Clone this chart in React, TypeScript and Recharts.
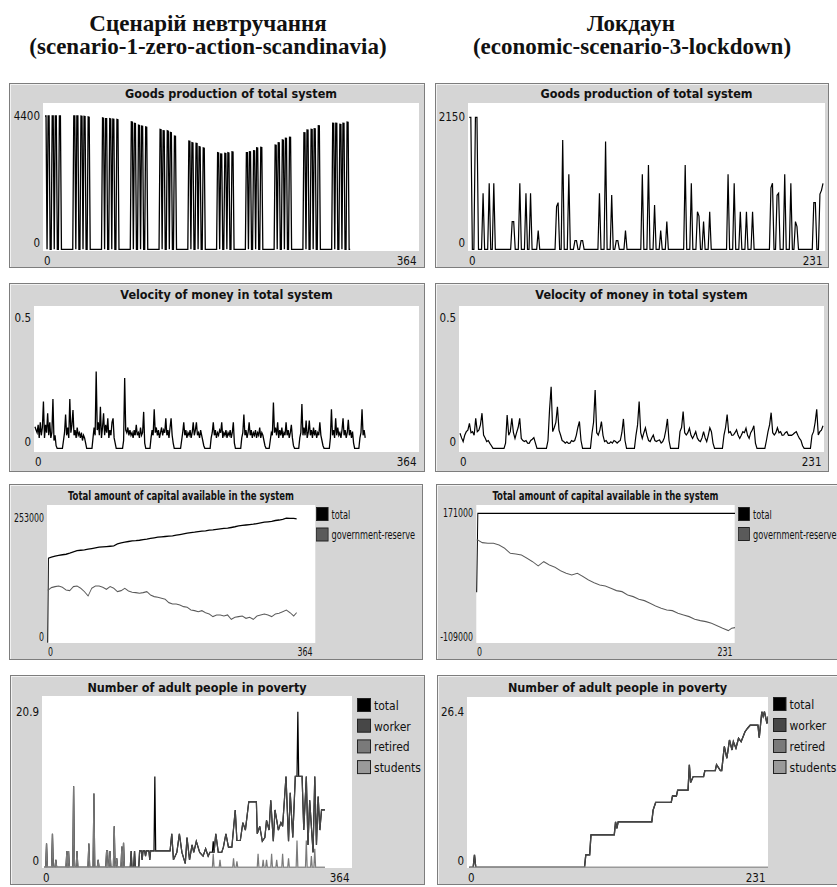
import React from 'react';
import { LineChart, Line, XAxis, YAxis } from 'recharts';

// ---------- data: scenario 1 (zero action, scandinavia) ----------

// goods production per tick, ticks 0..297
const goodsNoAction: number[] = [
  4400, 4400, 0, 4400, 4400, 0, 0, 4400, 4400, 0, 4400, 4400, 0, 0, 4400, 4400, 0, 0, 0, 0, 0, 0, 0, 0, 0, 0, 0, 0,
  4400, 4400, 0, 4400, 4400, 0, 0, 4400, 4390, 0, 4390, 4380, 0, 0, 4370, 4360, 0, 0, 0, 0, 0, 0, 0, 0, 0, 0, 0, 0,
  4340, 4330, 0, 4310, 4310, 0, 0, 4310, 4300, 0, 4300, 4290, 0, 0, 4290, 4280, 0, 0, 0, 0, 0, 0, 0, 0, 0, 0, 0, 0,
  4210, 4200, 0, 4160, 4150, 0, 0, 4100, 4090, 0, 4070, 4060, 0, 0, 4040, 4030, 0, 0, 0, 0, 0, 0, 0, 0, 0, 0, 0, 0,
  3960, 3950, 0, 3915, 3910, 0, 0, 3915, 3900, 0, 3860, 3850, 0, 0, 3740, 3730, 0, 0, 0, 0, 0, 0, 0, 0, 0, 0, 0, 0,
  3575, 3565, 0, 3520, 3510, 0, 0, 3500, 3490, 0, 3390, 3380, 0, 0, 3350, 3340, 0, 0, 0, 0, 0, 0, 0, 0, 0, 0, 0, 0,
  3190, 3180, 0, 3145, 3140, 0, 0, 3170, 3160, 0, 3190, 3180, 0, 0, 3220, 3210, 0, 0, 0, 0, 0, 0, 0, 0, 0, 0, 0, 0,
  3190, 3190, 0, 3220, 3215, 0, 0, 3255, 3250, 0, 3350, 3345, 0, 0, 3365, 3360, 0, 0, 0, 0, 0, 0, 0, 0, 0, 0, 0, 0,
  3440, 3435, 0, 3520, 3515, 0, 0, 3610, 3600, 0, 3665, 3660, 0, 0, 3700, 3695, 0, 0, 0, 0, 0, 0, 0, 0, 0, 0, 0, 0,
  3850, 3845, 0, 3940, 3935, 0, 0, 3960, 3955, 0, 3980, 3975, 0, 0, 4080, 4075, 0, 0, 0, 0, 0, 0, 0, 0, 0, 0, 0, 0,
  4160, 4155, 0, 4160, 4155, 0, 0, 4125, 4120, 0, 4160, 4155, 0, 0, 4200, 4195, 0, 0,
];

// velocity of money per tick, ticks 0..313
const velocityNoAction: number[] = [
  0.083, 0.07, 0.06, 0.09, 0.04, 0.1, 0.05, 0.08, 0.18, 0.04, 0.09, 0.06, 0.135, 0.05, 0.1, 0.04, 0.06, 0.19, 0.03, 0.05, 0.01, 0,
  0, 0, 0, 0, 0,
  0.03, 0.06, 0.13, 0.05, 0.08, 0.04, 0.19, 0.06, 0.09, 0.147, 0.05, 0.07, 0.04, 0.08, 0.05, 0.06, 0.04, 0.06, 0.03, 0.05, 0.04, 0.02, 0,
  0, 0, 0, 0, 0,
  0.04, 0.08, 0.05, 0.295, 0.07, 0.1, 0.05, 0.16, 0.04, 0.08, 0.135, 0.05, 0.09, 0.06, 0.115, 0.04, 0.07, 0.05, 0.1, 0.115, 0.04, 0.02,
  0, 0, 0, 0, 0, 0, 0,
  0.03, 0.27, 0.07, 0.06, 0.08, 0.05, 0.07, 0.05, 0.06, 0.04, 0.07, 0.05, 0.09, 0.05, 0.06, 0.04, 0.08, 0.05, 0.06, 0.14, 0.02,
  0, 0, 0, 0, 0,
  0.04, 0.07, 0.05, 0.15, 0.06, 0.08, 0.05, 0.07, 0.04, 0.06, 0.08, 0.05, 0.07, 0.06, 0.115, 0.05, 0.07, 0.04, 0.08, 0.115, 0.05, 0.02,
  0, 0, 0, 0, 0, 0, 0,
  0.03, 0.06, 0.1, 0.05, 0.07, 0.04, 0.06, 0.05, 0.07, 0.04, 0.06, 0.1, 0.05, 0.07, 0.1, 0.05, 0.06, 0.04, 0.07, 0.05, 0.03, 0.01,
  0, 0, 0, 0, 0, 0,
  0.04, 0.06, 0.1, 0.05, 0.07, 0.04, 0.06, 0.05, 0.07, 0.06, 0.1, 0.04, 0.06, 0.05, 0.07, 0.04, 0.06, 0.05, 0.07, 0.04, 0.06, 0.1, 0.02,
  0, 0, 0, 0, 0, 0,
  0.04, 0.06, 0.13, 0.05, 0.07, 0.04, 0.06, 0.1, 0.05, 0.07, 0.04, 0.06, 0.05, 0.07, 0.04, 0.06, 0.05, 0.08, 0.04, 0.06, 0.05, 0.03, 0.01,
  0, 0, 0, 0,
  0.03, 0.06, 0.05, 0.176, 0.06, 0.08, 0.05, 0.1, 0.04, 0.07, 0.05, 0.08, 0.04, 0.06, 0.05, 0.1, 0.05, 0.07, 0.04, 0.06, 0.09, 0.04, 0.01,
  0, 0, 0, 0, 0,
  0.04, 0.06, 0.17, 0.05, 0.08, 0.05, 0.107, 0.04, 0.06, 0.107, 0.05, 0.07, 0.04, 0.08, 0.05, 0.07, 0.04, 0.06, 0.05, 0.1, 0.05, 0.03, 0.01,
  0, 0, 0, 0, 0, 0,
  0.04, 0.15, 0.05, 0.07, 0.04, 0.115, 0.05, 0.08, 0.05, 0.06, 0.04, 0.07, 0.115, 0.05, 0.07, 0.04, 0.06, 0.11, 0.05, 0.07, 0.04, 0.064, 0.02,
  0, 0, 0, 0, 0,
  0.04, 0.06, 0.15, 0.05, 0.07, 0.04,
];

// capital: sampled ticks and values
const capTicksNoAction = [0, 1, 5, 10, 15, 20, 25, 30, 35, 40, 45, 50, 55, 60, 65, 70, 75, 80, 85, 90, 95, 100, 105, 110, 115, 120, 125, 130, 135, 140, 145, 150, 155, 160, 165, 170, 175, 180, 185, 190, 195, 200, 205, 210, 215, 220, 225, 230, 235, 240, 245, 250, 255, 260, 265, 270, 275, 280, 285, 290, 295, 300, 305, 310, 315, 320, 325, 330, 335, 339];
const capTotalNoAction = [0, 171800, 174000, 176200, 177500, 178900, 179900, 182000, 184800, 187400, 188000, 188800, 190100, 191500, 192800, 194200, 195000, 195600, 196200, 197000, 200900, 203000, 204400, 205800, 207100, 207500, 208400, 209800, 210500, 212000, 213200, 214600, 215300, 216000, 216700, 217300, 218800, 220000, 221400, 222700, 223700, 224700, 226100, 226800, 227500, 228800, 229500, 230500, 231400, 232400, 232900, 234300, 235800, 237700, 238500, 239400, 240300, 241000, 242300, 243600, 245100, 245800, 246700, 248500, 249500, 251000, 253300, 253000, 252800, 251900];
const capGovNoAction = [107300, 107300, 112000, 114100, 115400, 112700, 107300, 105900, 114100, 115400, 110700, 103900, 95100, 110700, 115400, 115400, 112700, 108600, 114100, 110700, 103900, 105900, 110700, 105200, 102500, 101800, 100500, 101800, 103900, 97100, 93700, 92300, 90300, 88300, 81500, 78800, 78800, 76700, 73300, 72000, 66500, 65200, 63100, 65200, 61100, 58400, 53000, 56400, 56400, 54300, 56400, 47500, 51600, 53000, 54300, 49600, 51600, 47500, 54300, 56400, 58400, 56400, 53000, 58400, 59800, 63100, 66500, 61100, 54300, 61100];

// poverty: line vertices (tick, value); early spikes belong to the retired pen
const povTicksNoAction = [0, 2, 3, 4, 9, 10, 11, 13, 14, 15, 26, 27, 28, 29, 30, 34, 35, 36, 38, 39, 40, 52, 53, 54, 58, 59, 60, 63, 64, 65, 73, 74, 75, 76, 77, 78, 79, 82, 83, 84, 85, 86, 87, 91, 92, 93, 94, 95, 102, 103, 104, 106, 107, 108, 112, 113, 115, 116, 117, 119, 120, 121, 124, 125, 126, 130, 131, 132, 149, 151, 153, 157, 160, 163, 167, 169, 172, 175, 177, 180, 184, 188, 191, 194, 196, 199, 200, 201, 203, 206, 210, 212, 215, 218, 222, 226, 228, 232, 235, 238, 242, 251, 252, 255, 258, 261, 263, 266, 268, 271, 273, 277, 280, 282, 286, 289, 291, 294, 297, 299, 300, 301, 305, 307, 310, 312, 314, 318, 320, 322, 324, 326, 328, 332];
const povBaseNoAction = [0, 0, 3.2, 0, 0, 4.5, 0, 0, 1, 0, 0, 2.2, 0, 2.2, 0, 0, 10.9, 0, 0, 2.2, 0, 0, 3.2, 0, 0, 9.9, 0, 0, 1, 0, 0, 2.2, 2.2, 0, 0, 2.2, 0, 0, 5.5, 0, 0, 1.2, 0, 0, 2.8, 0, 3.3, 0, 0, 2.2, 0, 0, 2.2, 0, 0, 2.2, 2.2, 1, 2.2, 2.2, 1.5, 2.2, 2.2, 1, 2.2, 2.2, 2.2, 2.2, 2.2, 4.5, 1, 2, 4.5, 2, 0.5, 4, 1, 3, 2, 3.5, 2, 1.5, 2.5, 1.5, 2, 2, 2, 2, 4.5, 2, 2, 2.7, 4.5, 2.7, 2.7, 7.7, 3.6, 3.6, 6, 5, 8.8, 8.8, 4.5, 5.5, 3.5, 4, 6.3, 5, 9, 3.5, 7.7, 5, 6, 5.5, 12.2, 3.5, 10, 4, 12.2, 12.2, 12.2, 12.2, 12.2, 5, 12.2, 3, 9, 2, 12.2, 3, 9.5, 5, 7.7, 7.7];
const povRetiredUntilTick = 100;
const povTotalPeakTicksNoAction = [131, 200, 300];
const povTotalPeakValsNoAction = [12.2, 3.5, 20.9];
const povRetiredTicksNoAction = [100, 199, 200, 201, 207, 208, 209, 223, 224, 225, 227, 228, 229, 252, 253, 254, 258, 259, 260, 262, 263, 264, 268, 269, 270, 274, 275, 276, 281, 282, 283, 288, 289, 290, 298, 299, 300, 309, 310, 311, 315, 316, 317, 319, 320, 321, 332];
const povRetiredNoAction = [0, 0, 1.8, 0, 0, 1, 0, 0, 1.2, 0, 0, 0.8, 0, 0, 1.8, 0, 0, 1, 0, 0, 1, 0, 0, 1.8, 0, 0, 1, 0, 0, 1.8, 0, 0, 1.2, 0, 0, 3.6, 0, 0, 3.6, 0, 0, 1.5, 0, 0, 2.5, 0, 0];
const povStudentsTicksNoAction = [0, 332];
const povStudentsNoAction = [0, 0];

// ---------- data: economic scenario 3 (lockdown) ----------

// goods production per tick, ticks 0..231
const goodsLockdown: number[] = [
  2150, 2150, 0, 0, 2150, 2150, 0, 0, 0, 912, 0, 0, 0, 1075, 0, 0, 1075, 0, 0, 0, 0, 0, 0, 0, 0, 0, 0, 0,
  451, 451, 0, 0, 0, 1075, 0, 0, 0, 912, 0, 0, 912, 0, 0, 0, 0, 304, 0, 0, 0, 0, 0, 0, 0, 0, 0, 0,
  0, 695, 760, 0, 0, 1780, 0, 0, 0, 1222, 0, 0, 0, 141, 141, 0, 0, 141, 141, 0, 0, 0, 0, 0, 0, 0, 0, 0,
  0, 912, 0, 0, 0, 1754, 0, 0, 0, 885, 0, 0, 141, 141, 0, 0, 0, 0, 304, 0, 0, 0, 0, 0, 0, 0, 0, 0,
  0, 1222, 0, 0, 0, 1373, 0, 0, 0, 722, 0, 0, 0, 304, 0, 0, 0, 451, 0, 0, 0, 0, 0, 0, 0, 0, 0, 0,
  0, 1373, 0, 0, 0, 1075, 0, 0, 0, 613, 540, 0, 0, 451, 0, 0, 0, 613, 0, 0, 0, 0, 0, 0, 0, 0, 0, 0,
  0, 1222, 0, 0, 0, 1075, 0, 0, 0, 613, 0, 0, 0, 613, 0, 0, 0, 613, 0, 0, 0, 0, 0, 0, 0, 0, 0, 0,
  0, 1000, 1075, 0, 0, 880, 912, 0, 0, 0, 1222, 0, 0, 0, 1075, 0, 0, 451, 369, 0, 0, 0, 0, 0, 0, 0, 0, 0,
  0, 760, 760, 0, 0, 900, 960, 1075,
];

// velocity of money per tick, ticks 0..231
const velocityLockdown: number[] = [
  0.058, 0.04, 0.026, 0.05, 0.064, 0.07, 0.096, 0.06, 0.064, 0.05, 0.115, 0.064, 0.07, 0.09, 0.135, 0.051, 0.04, 0.026, 0.03, 0.019, 0.01, 0,
  0, 0, 0, 0, 0, 0, 0,
  0.02, 0.128, 0.05, 0.064, 0.115, 0.06, 0.038, 0.06, 0.08, 0.115, 0.038, 0.03, 0.026, 0.03, 0.02, 0.019, 0.03, 0.035, 0.041, 0.02,
  0, 0, 0, 0, 0, 0, 0,
  0.03, 0.15, 0.237, 0.064, 0.08, 0.1, 0.16, 0.07, 0.051, 0.03, 0.026, 0.02, 0.025, 0.019, 0.02, 0.03, 0.026, 0.03, 0.05, 0.08, 0.103, 0.03,
  0, 0, 0, 0, 0, 0,
  0.058, 0.1, 0.224, 0.06, 0.051, 0.07, 0.103, 0.05, 0.026, 0.03, 0.02, 0.019, 0.025, 0.02, 0.03, 0.026, 0.02, 0.026, 0.03, 0.06, 0.113, 0.03,
  0, 0, 0, 0, 0, 0,
  0.051, 0.09, 0.18, 0.06, 0.038, 0.06, 0.079, 0.05, 0.03, 0.026, 0.04, 0.051, 0.03, 0.026, 0.03, 0.032, 0.02, 0.026, 0.04, 0.07, 0.113, 0.03,
  0, 0, 0, 0, 0, 0,
  0.064, 0.08, 0.141, 0.06, 0.051, 0.06, 0.077, 0.05, 0.038, 0.05, 0.064, 0.04, 0.03, 0.026, 0.04, 0.064, 0.04, 0.026, 0.05, 0.079, 0.064, 0.02,
  0, 0, 0, 0, 0, 0,
  0.051, 0.08, 0.13, 0.06, 0.064, 0.05, 0.051, 0.06, 0.071, 0.05, 0.038, 0.05, 0.064, 0.06, 0.077, 0.05, 0.038, 0.06, 0.07, 0.087, 0.02,
  0, 0, 0, 0, 0, 0,
  0.03, 0.064, 0.09, 0.137, 0.06, 0.051, 0.06, 0.079, 0.06, 0.064, 0.05, 0.051, 0.06, 0.064, 0.05, 0.051, 0.05, 0.054, 0.06, 0.064, 0.05, 0.038, 0.03, 0.01,
  0, 0, 0, 0, 0,
  0.05, 0.064, 0.1, 0.15, 0.051, 0.064, 0.07, 0.087,
];

const capTotalTicksLockdown = [0, 1, 231];
const capTotalLockdown = [0, 171000, 171000];
const capGovTicksLockdown = [0, 1, 5, 10, 15, 20, 25, 30, 35, 40, 45, 50, 55, 60, 65, 70, 75, 80, 85, 90, 95, 100, 105, 110, 115, 120, 125, 130, 135, 140, 145, 150, 155, 160, 165, 170, 175, 180, 185, 190, 195, 200, 205, 210, 215, 220, 225, 228, 231];
const capGovLockdown = [113300, 113000, 107500, 106100, 106100, 102500, 95300, 84400, 83000, 80800, 73600, 66400, 57000, 66400, 59200, 54100, 46900, 41200, 37600, 41200, 34000, 26700, 20900, 15900, 13800, 8700, 3700, 1500, -5700, -9300, -15100, -18000, -23800, -29500, -34600, -38200, -39600, -45400, -49000, -52600, -58400, -61300, -63400, -67000, -72100, -77900, -82900, -77900, -76400];

const povTicksLockdown = [0, 3, 4, 5, 89, 90, 93, 94, 112, 113, 114, 115, 141, 142, 144, 156, 157, 160, 161, 169, 170, 171, 173, 181, 182, 190, 191, 194, 195, 197, 199, 201, 203, 204, 206, 208, 210, 213, 215, 217, 223, 224, 226, 227, 228, 230, 231];
const povWorkerLockdown = [0, 0, 2.1, 0, 0, 2.1, 2.1, 5.5, 5.5, 7.7, 6.6, 7.7, 7.7, 9.7, 11, 11, 12.1, 12.1, 13.1, 13.1, 17.4, 14.4, 15.4, 15.4, 16.4, 16.4, 17.4, 16.4, 16.4, 20.5, 18.5, 21.6, 19.9, 21.3, 20.2, 21.9, 21.3, 23, 23.6, 24.1, 24.1, 22, 26.4, 25.6, 26.4, 24.4, 25.6];
const povZeroTicksLockdown = [0, 231];
const povZeroLockdown = [0, 0];

// ---------- helpers ----------

type Pt = { x: number; y: number };
const byTick = (vals: number[]): Pt[] => vals.map((y, x) => ({ x, y }));
const zipPts = (ticks: number[], vals: number[]): Pt[] => ticks.map((x, i) => ({ x, y: vals[i] }));
const withPeaks = (ticks: number[], vals: number[], pt: number[], pv: number[]): Pt[] =>
  ticks.map((x, i) => {
    const j = pt.indexOf(x);
    return { x, y: j >= 0 ? pv[j] : vals[i] };
  });

const povBasePts = zipPts(povTicksNoAction, povBaseNoAction);
const povWorkerPts = povBasePts.map((p) => (p.x < povRetiredUntilTick ? { x: p.x, y: 0 } : p));
const povRetiredPts = [
  ...povBasePts.filter((p) => p.x < povRetiredUntilTick),
  ...zipPts(povRetiredTicksNoAction, povRetiredNoAction),
];

const UI_FONT = '"DejaVu Sans Condensed", "DejaVu Sans", sans-serif';
const C_TOTAL = '#000000';
const C_WORKER = '#474747';
const C_RETIRED = '#7a7a7a';
const C_STUDENTS = '#9a9a9a';
const C_GOV = '#5a5a5a';

type Box = { x: number; y: number; w: number; h: number };
type Series = { name: string; color: string; data: Pt[]; width?: number };
type LegendBox = { x: number; y: number; step: number; sw: number; sh: number };

interface PlotSpec {
  id: string;
  frame: Box;
  plot: Box;
  title: string;
  titleY: number;
  xMax: number;
  xAt: [number, number];
  yMin: number;
  yMax: number;
  yAt: [number, number];
  yText: [string, string];
  series: Series[];
  legend?: LegendBox;
  squeeze?: number;
}

function NetLogoPlot({ spec }: { spec: PlotSpec }) {
  const k = spec.squeeze ?? 1;
  const { frame, plot } = spec;
  const W = frame.w / k;
  const H = frame.h;
  const rx = (px: number) => (px - frame.x) / k;
  const ry = (py: number) => py - frame.y;
  const L = rx(plot.x);
  const R = rx(plot.x + plot.w);
  const T = ry(plot.y);
  const B = ry(plot.y + plot.h);

  const x0 = rx(spec.xAt[0]);
  const x1 = rx(spec.xAt[1]);
  const sx = (x1 - x0) / spec.xMax;
  const xDomain: [number, number] = [(L - x0) / sx, (R - x0) / sx];

  const y0 = ry(spec.yAt[0]);
  const y1 = ry(spec.yAt[1]);
  const sy = (y0 - y1) / (spec.yMax - spec.yMin);
  const yDomain: [number, number] = [spec.yMin - (B - y0) / sy, spec.yMax + (y1 - T) / sy];

  const xTick = (p: any) => {
    const isMin = p.payload.value === 0;
    return (
      <text x={isMin ? L + 1 / k : R - 2.5 / k} y={B + 13.5} textAnchor={isMin ? 'start' : 'end'}
        fontFamily={UI_FONT} fontSize={11.5} fill="#111">
        {p.payload.value}
      </text>
    );
  };
  const yTick = (p: any) => {
    const isMax = p.payload.value === spec.yMax;
    return (
      <text x={L - 3 / k} y={p.y + (isMax ? 4 : -2)} textAnchor="end"
        fontFamily={UI_FONT} fontSize={11.5} fill="#111">
        {isMax ? spec.yText[1] : spec.yText[0]}
      </text>
    );
  };

  return (
    <div style={{ position: 'absolute', left: frame.x, top: frame.y, width: frame.w, height: frame.h, overflow: 'hidden', background: '#d5d5d5' }}>
      <div style={{ position: 'absolute', left: 0, top: 0, width: W, height: H, transform: `scaleX(${k})`, transformOrigin: '0 0' }}>
        <div style={{ position: 'absolute', left: L, top: T, width: R - L, height: B - T, background: '#fff' }} />
        <LineChart width={W} height={H} margin={{ top: T, right: W - R, bottom: 0, left: 0 }}
          style={{ position: 'absolute', left: 0, top: 0 }}>
          <XAxis type="number" dataKey="x" domain={xDomain} allowDataOverflow ticks={[0, spec.xMax]} interval={0}
            axisLine={false} tickLine={false} height={H - B} tick={xTick} />
          <YAxis type="number" domain={yDomain} allowDataOverflow ticks={[spec.yMin, spec.yMax]} interval={0}
            axisLine={false} tickLine={false} width={L} tick={yTick} />
          {spec.series.map((s) => (
            <Line key={s.name} data={s.data} dataKey="y" name={s.name} type="linear" stroke={s.color}
              strokeWidth={s.width ?? 1.1} dot={false} activeDot={false} isAnimationActive={false} />
          ))}
        </LineChart>
        <svg width={W} height={H} style={{ position: 'absolute', left: 0, top: 0, pointerEvents: 'none' }}>
          <text x={(L + R) / 2} y={ry(spec.titleY)} textAnchor="middle" fontFamily={UI_FONT}
            fontWeight="bold" fontSize={12.5} fill="#111">
            {spec.title}
          </text>
          {spec.legend &&
            spec.series.map((s, i) => {
              const lg = spec.legend as LegendBox;
              const top = ry(lg.y) + i * lg.step;
              const lx = rx(lg.x);
              return (
                <g key={s.name}>
                  <rect x={lx + 0.5} y={top + 0.5} width={lg.sw / k - 1} height={lg.sh - 1} fill={s.color} stroke="#222" />
                  <text x={lx + (lg.sw + 3) / k} y={top + lg.sh - 2} fontFamily={UI_FONT} fontSize={12} fill="#111">
                    {s.name}
                  </text>
                </g>
              );
            })}
        </svg>
      </div>
      <div style={{ position: 'absolute', inset: 0, border: '1px solid #7d7d7d', boxSizing: 'border-box', boxShadow: 'inset 1px 1px 0 #f2f2f2' }} />
    </div>
  );
}

const specs: PlotSpec[] = [
  {
    id: 'goods-1', frame: { x: 9, y: 83, w: 416, h: 185 }, plot: { x: 43, y: 103, w: 376, h: 148 },
    title: 'Goods production of total system', titleY: 98,
    xMax: 364, xAt: [45, 419], yMin: 0, yMax: 4400, yAt: [249.3, 116], yText: ['0', '4400'],
    series: [{ name: 'goods', color: C_TOTAL, data: byTick(goodsNoAction), width: 1.3 }],
  },
  {
    id: 'goods-3', frame: { x: 435, y: 83, w: 394, h: 185 }, plot: { x: 468, y: 103, w: 357, h: 148 },
    title: 'Goods production of total system', titleY: 98,
    xMax: 231, xAt: [469.3, 823], yMin: 0, yMax: 2150, yAt: [249.3, 117.3], yText: ['0', '2150'],
    series: [{ name: 'goods', color: C_TOTAL, data: byTick(goodsLockdown), width: 1.2 }],
  },
  {
    id: 'vel-1', frame: { x: 9, y: 283, w: 416, h: 189 }, plot: { x: 34, y: 306, w: 385, h: 146 },
    title: 'Velocity of money in total system', titleY: 298.5,
    xMax: 364, xAt: [35, 419], yMin: 0, yMax: 0.5, yAt: [448.3, 318.3], yText: ['0', '0.5'],
    series: [{ name: 'velocity', color: C_TOTAL, data: byTick(velocityNoAction), width: 1.3 }],
  },
  {
    id: 'vel-3', frame: { x: 435, y: 283, w: 394, h: 189 }, plot: { x: 459, y: 306, w: 365, h: 146 },
    title: 'Velocity of money in total system', titleY: 298.5,
    xMax: 231, xAt: [460, 823], yMin: 0, yMax: 0.5, yAt: [448.3, 318.3], yText: ['0', '0.5'],
    series: [{ name: 'velocity', color: C_TOTAL, data: byTick(velocityLockdown), width: 1.2 }],
  },
  {
    id: 'cap-1', frame: { x: 9, y: 484, w: 414, h: 176 }, plot: { x: 47, y: 505, w: 268, h: 138 },
    title: 'Total amount of capital available in the system', titleY: 500,
    xMax: 364, xAt: [47.7, 315], yMin: 0, yMax: 253000, yAt: [642.7, 518.3], yText: ['0', '253000'],
    series: [
      { name: 'total', color: C_TOTAL, data: zipPts(capTicksNoAction, capTotalNoAction), width: 1.3 },
      { name: 'government-reserve', color: C_GOV, data: zipPts(capTicksNoAction, capGovNoAction), width: 1.1 },
    ],
    legend: { x: 316, y: 507, step: 20.5, sw: 12.5, sh: 14 }, squeeze: 0.76,
  },
  {
    id: 'cap-3', frame: { x: 436, y: 484, w: 414, h: 176 }, plot: { x: 476, y: 505, w: 259, h: 138 },
    title: 'Total amount of capital available in the system', titleY: 500,
    xMax: 231, xAt: [476.7, 735], yMin: -109000, yMax: 171000, yAt: [642.7, 513.3], yText: ['-109000', '171000'],
    series: [
      { name: 'total', color: C_TOTAL, data: zipPts(capTotalTicksLockdown, capTotalLockdown), width: 1.3 },
      { name: 'government-reserve', color: C_GOV, data: zipPts(capGovTicksLockdown, capGovLockdown), width: 1.1 },
    ],
    legend: { x: 738, y: 507, step: 20, sw: 12, sh: 14 }, squeeze: 0.76,
  },
  {
    id: 'pov-1', frame: { x: 10, y: 675, w: 415, h: 210 }, plot: { x: 42, y: 696, w: 310, h: 172 },
    title: 'Number of adult people in poverty', titleY: 692,
    xMax: 364, xAt: [44, 352], yMin: 0, yMax: 20.9, yAt: [867.3, 711.7], yText: ['0', '20.9'],
    series: [
      { name: 'total', color: C_TOTAL, data: withPeaks(povTicksNoAction, povBaseNoAction, povTotalPeakTicksNoAction, povTotalPeakValsNoAction), width: 1.2 },
      { name: 'worker', color: C_WORKER, data: povWorkerPts, width: 1.2 },
      { name: 'retired', color: C_RETIRED, data: povRetiredPts, width: 1.2 },
      { name: 'students', color: C_STUDENTS, data: zipPts(povStudentsTicksNoAction, povStudentsNoAction) },
    ],
    legend: { x: 357, y: 698, step: 20.7, sw: 14, sh: 14 },
  },
  {
    id: 'pov-3', frame: { x: 437, y: 675, w: 410, h: 210 }, plot: { x: 467, y: 697, w: 301, h: 171 },
    title: 'Number of adult people in poverty', titleY: 692,
    xMax: 231, xAt: [469.3, 768.3], yMin: 0, yMax: 26.4, yAt: [867.3, 711.7], yText: ['0', '26.4'],
    series: [
      { name: 'total', color: C_TOTAL, data: zipPts(povTicksLockdown, povWorkerLockdown), width: 1.3 },
      { name: 'worker', color: C_WORKER, data: zipPts(povTicksLockdown, povWorkerLockdown), width: 1.3 },
      { name: 'retired', color: C_RETIRED, data: zipPts(povZeroTicksLockdown, povZeroLockdown) },
      { name: 'students', color: C_STUDENTS, data: zipPts(povZeroTicksLockdown, povZeroLockdown) },
    ],
    legend: { x: 773, y: 697, step: 21, sw: 13.5, sh: 14 },
  },
];

const HEAD_FONT = '"Liberation Serif", "Times New Roman", serif';

export default function App() {
  return (
    <div style={{ position: 'absolute', left: 0, top: 0, width: 837, height: 887, overflow: 'hidden', background: '#fff' }}>
      <svg width={837} height={70} style={{ position: 'absolute', left: 0, top: 0 }}>
        <g fontFamily={HEAD_FONT} fontWeight="bold" fontSize={23} fill="#111" textAnchor="middle">
          <text x={208} y={31}>Сценарій невтручання</text>
          <text x={208} y={54}>(scenario-1-zero-action-scandinavia)</text>
          <text x={631} y={31}>Локдаун</text>
          <text x={632} y={54}>(economic-scenario-3-lockdown)</text>
        </g>
      </svg>
      {specs.map((s) => (
        <NetLogoPlot key={s.id} spec={s} />
      ))}
    </div>
  );
}
